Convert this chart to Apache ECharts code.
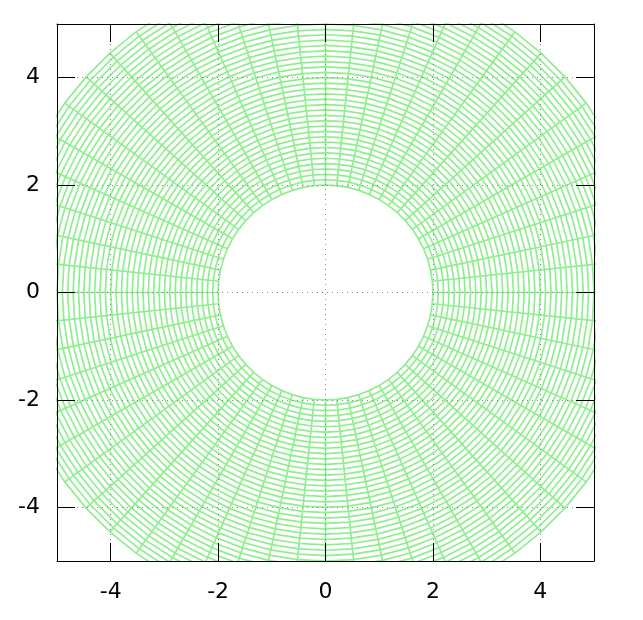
<!DOCTYPE html>
<html>
<head>
<meta charset="utf-8">
<script src="https://cdn.jsdelivr.net/npm/echarts@6/dist/echarts.min.js"></script>
<style>html,body{margin:0;padding:0;background:#fff}#c{width:643px;height:620px}</style>
</head>
<body>
<div id="c"></div>
<script>
// Spoke angles (degrees) of the polar mesh
const spokeAngles = [0,6,12,18,24,30,36,42,48,54,60,66,72,78,84,90,96,102,108,114,120,126,132,138,144,150,156,162,168,174,180,186,192,198,204,210,216,222,228,234,240,246,252,258,264,270,276,282,288,294,300,306,312,318,324,330,336,342,348,354];
// Ring radii of the mesh
const ringRadii = [2.0,2.1,2.2,2.3,2.4,2.5,2.6,2.7,2.8,2.9,3.0,3.1,3.2,3.3,3.4,3.5,3.6,3.7,3.8,3.9,4.0,4.1,4.2,4.3,4.4,4.5,4.6,4.7,4.8,4.9,5.0,5.1,5.2,5.3,5.4,5.5,5.6,5.7,5.8,5.9,6.0];
// Axis tick values
const xTicks = [-4,-2,0,2,4];
const yTicks = [-4,-2,0,2,4];

const rad = d => d * Math.PI / 180;
const meshLines = [];
// rings drawn as straight chords between spokes
ringRadii.forEach(r => {
  const coords = spokeAngles.map(a => [r * Math.cos(rad(a)), r * Math.sin(rad(a))]);
  coords.push(coords[0]);
  meshLines.push({coords});
});
// spokes
const rIn = ringRadii[0], rOut = ringRadii[ringRadii.length - 1];
spokeAngles.forEach(a => {
  meshLines.push({coords: [[rIn * Math.cos(rad(a)), rIn * Math.sin(rad(a))], [rOut * Math.cos(rad(a)), rOut * Math.sin(rad(a))]]});
});

const font = {fontFamily: 'DejaVu Sans', fontSize: 22, color: '#000'};
function axis(pos, ticks, showLabel, margin, extra) {
  return Object.assign({
    type: 'value', min: -5, max: 5, position: pos, z: 5,
    axisLine: {show: true, onZero: false, lineStyle: {color: '#000', width: 1}},
    axisTick: {show: true, inside: true, length: 18, customValues: ticks, lineStyle: {color: '#000', width: 1}},
    axisLabel: Object.assign({show: showLabel, customValues: ticks, margin: margin}, font),
    splitLine: {show: false}
  }, extra || {});
}
const grid = {show: true, lineStyle: {color: '#888', width: 1, type: [1, 4]}};
const chart = echarts.init(document.getElementById('c'), null, {renderer: 'canvas'});
chart.setOption({
  animation: false,
  backgroundColor: '#fff',
  grid: {left: 57, right: 49, top: 24, bottom: 59, containLabel: false},
  xAxis: [
    axis('bottom', xTicks, true, 20, {splitLine: grid}),
    axis('top', xTicks, false, 8)
  ],
  yAxis: [
    axis('left', yTicks, true, 17, {splitLine: grid}),
    axis('right', yTicks, false, 8)
  ],
  series: [{
    type: 'lines',
    coordinateSystem: 'cartesian2d',
    xAxisIndex: 0, yAxisIndex: 0,
    polyline: true,
    clip: true,
    silent: true,
    lineStyle: {color: '#90ee90', width: 1.7, opacity: 1},
    data: meshLines
  }]
});
</script>
</body>
</html>
